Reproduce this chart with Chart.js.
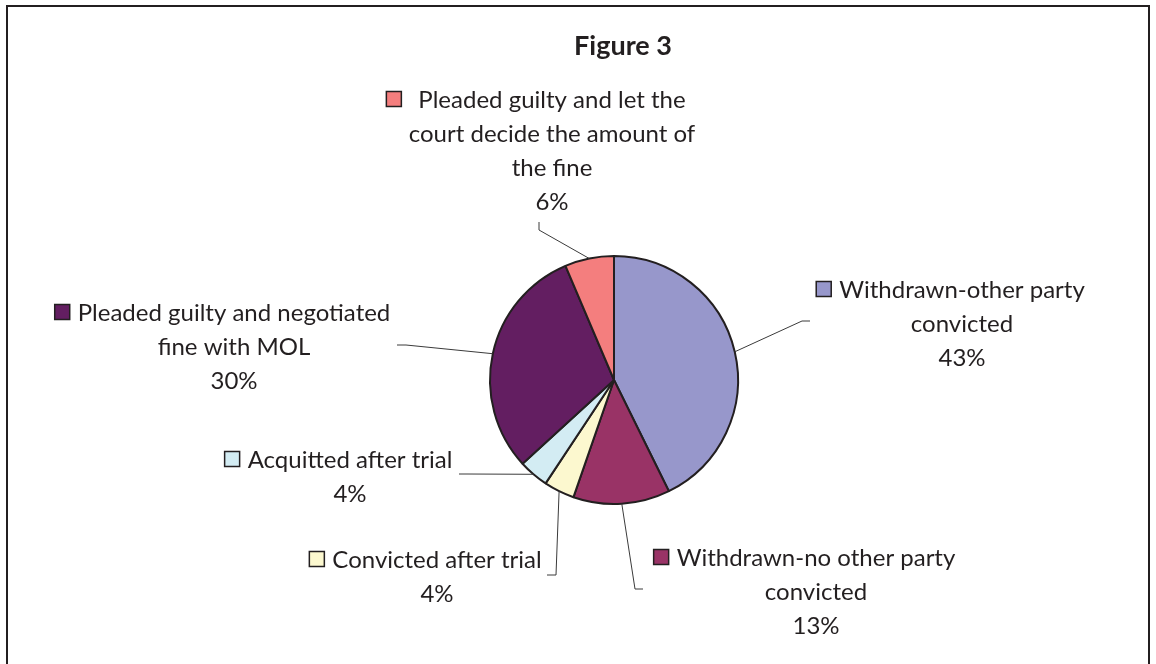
<!DOCTYPE html>
<html>
<head>
<meta charset="utf-8">
<script src="https://cdn.jsdelivr.net/npm/chart.js@4/dist/chart.umd.min.js"></script>
<style>
  html, body { margin: 0; padding: 0; background: #ffffff; }
  canvas { display: block; }
</style>
</head>
<body>
<canvas id="pieChart" width="1156" height="664"></canvas>
<script>
const TITLE = "Figure 3";

// Slices, clockwise from 12 o'clock
const categories = [
  ["Withdrawn-other party", "convicted"],
  ["Withdrawn-no other party", "convicted"],
  ["Convicted after trial"],
  ["Acquitted after trial"],
  ["Pleaded guilty and negotiated", "fine with MOL"],
  ["Pleaded guilty and let the", "court decide the amount of", "the fine"],
];
const shares = [42.7, 12.6, 4.0, 3.9, 30.4, 6.4];
const sliceColors = ["#9797CB", "#993366", "#FCF8CF", "#D3ECF3", "#631E61", "#F47E7E"];

const TEXT_COLOR = "#231F20";
const FONT = "Lato, 'Open Sans', sans-serif";

// Where each data label sits and how its leader line bends
const labelLayout = [
  { cx: 962, top: 290, elbow: [802, 321], end: [810, 321] },
  { cx: 816, top: 558, elbow: [635, 589], end: [643, 589] },
  { cx: 437, top: 560, elbow: [556, 575], end: [547, 575] },
  { cx: 350, top: 460, elbow: [467, 474], end: [459, 474] },
  { cx: 234, top: 313, elbow: [406, 345], end: [397, 345] },
  { cx: 552, top: 100, elbow: [539, 230], end: [539, 222], keyGap: 17 },
];
const LINE_HEIGHT = 34;
const KEY = 15;

const total = shares.reduce((a, b) => a + b, 0);

const frameAndLabels = {
  id: "frameAndLabels",
  afterDraw(chart) {
    const c = chart.ctx;
    const meta = chart.getDatasetMeta(0);
    c.save();

    // outer frame
    c.strokeStyle = "#231F20";
    c.lineWidth = 2;
    c.beginPath();
    c.moveTo(7, 664);
    c.lineTo(7, 6);
    c.lineTo(1149, 6);
    c.lineTo(1149, 664);
    c.stroke();

    // title
    c.fillStyle = TEXT_COLOR;
    c.font = "bold 27px " + FONT;
    c.textAlign = "center";
    c.textBaseline = "middle";
    c.fillText(TITLE, 623, 46);

    meta.data.forEach((arc, i) => {
      const lay = labelLayout[i];
      const mid = (arc.startAngle + arc.endAngle) / 2;
      const px = arc.x + Math.cos(mid) * arc.outerRadius;
      const py = arc.y + Math.sin(mid) * arc.outerRadius;

      // leader line
      c.strokeStyle = "#3a3a3a";
      c.lineWidth = 1;
      c.beginPath();
      c.moveTo(px, py);
      c.lineTo(lay.elbow[0], lay.elbow[1]);
      c.lineTo(lay.end[0], lay.end[1]);
      c.stroke();

      // text lines
      const lines = categories[i].concat([Math.round((shares[i] / total) * 100) + "%"]);
      c.font = "24px " + FONT;
      c.fillStyle = TEXT_COLOR;
      c.textAlign = "center";
      lines.forEach((line, j) => {
        c.fillText(line, lay.cx, lay.top + j * LINE_HEIGHT);
      });

      // legend key in front of first line
      const w = c.measureText(lines[0]).width;
      const gap = lay.keyGap || 8;
      const kx = lay.cx - w / 2 - gap - KEY;
      c.fillStyle = sliceColors[i];
      c.fillRect(kx, lay.top - KEY / 2 - 1, KEY, KEY);
      c.strokeStyle = "#231F20";
      c.lineWidth = 1.5;
      c.strokeRect(kx, lay.top - KEY / 2 - 1, KEY, KEY);
    });

    c.restore();
  },
};

new Chart(document.getElementById("pieChart"), {
  type: "pie",
  data: {
    labels: categories,
    datasets: [
      {
        data: shares,
        backgroundColor: sliceColors,
        borderColor: "#231F20",
        borderWidth: 2,
        radius: 124,
      },
    ],
  },
  options: {
    responsive: false,
    animation: false,
    layout: {
      padding: { left: 490, right: 418, top: 256, bottom: 160 },
    },
    plugins: {
      legend: { display: false },
      tooltip: { enabled: false },
    },
  },
  plugins: [frameAndLabels],
});
</script>
</body>
</html>
